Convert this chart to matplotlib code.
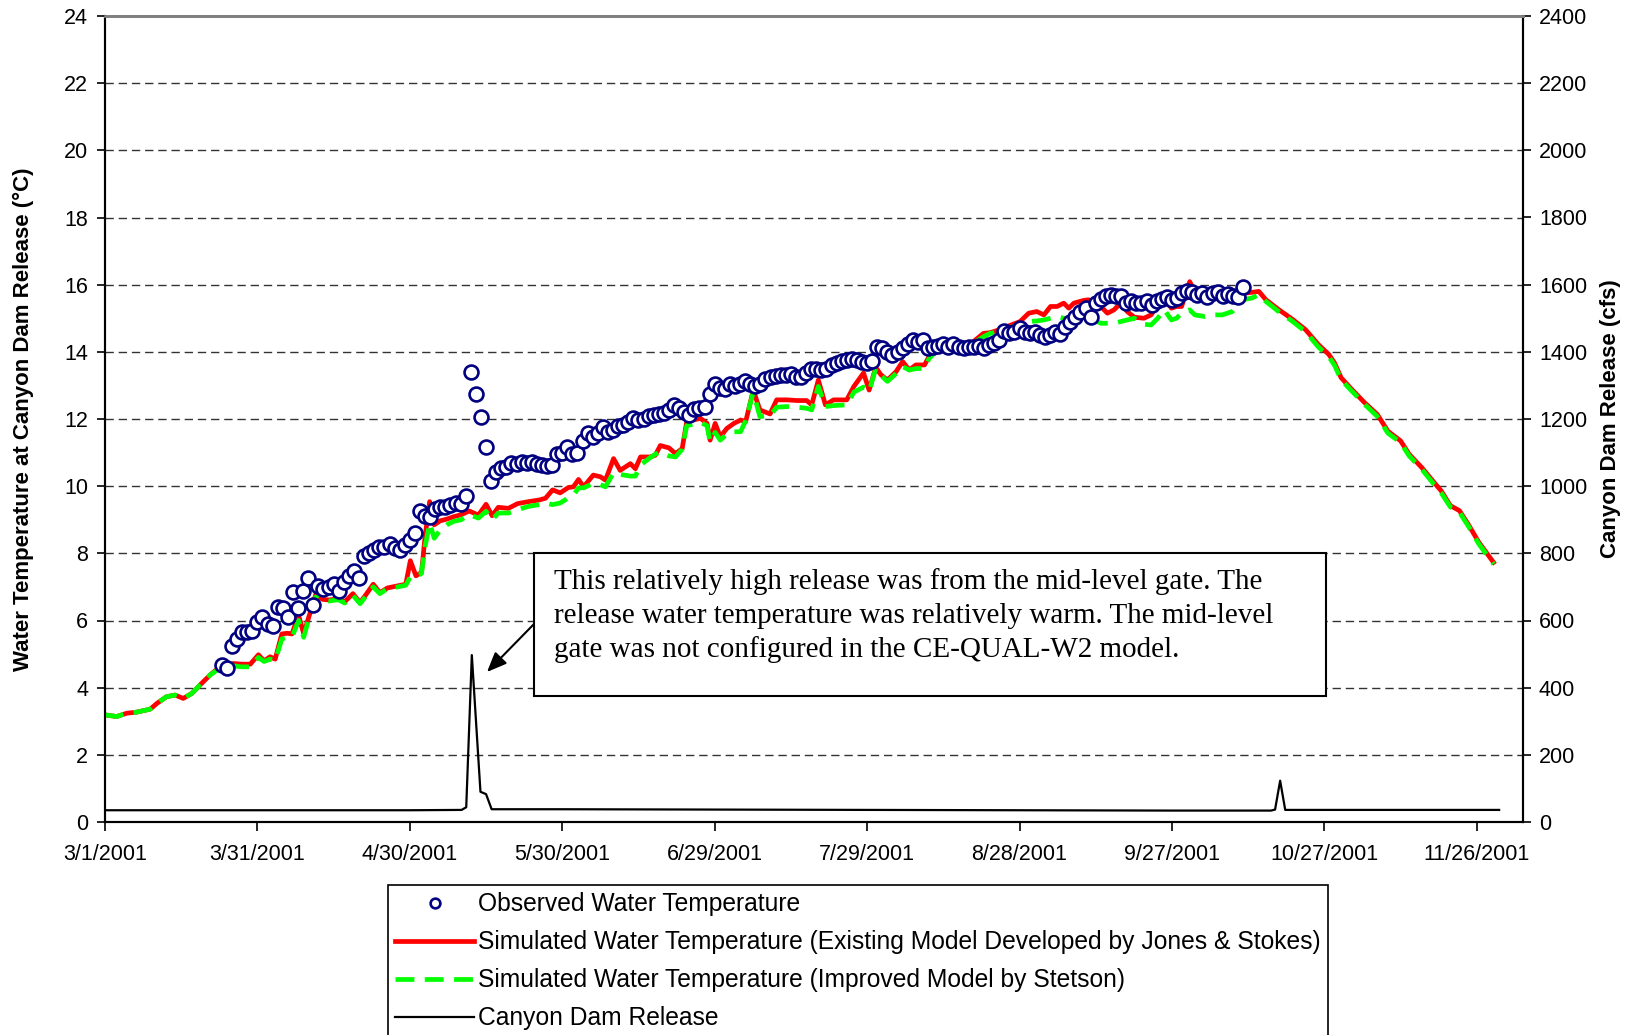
import numpy as np
import matplotlib
matplotlib.use("Agg")
import matplotlib.pyplot as plt
from matplotlib.patches import Rectangle

plt.rcParams['font.family'] = ['Liberation Sans', 'DejaVu Sans']

# ---------------- data (day offsets from 3/1/2001) ----------------
tick_days = [0, 30, 60, 90, 120, 150, 180, 210, 240, 270]
tick_labels = ["3/1/2001", "3/31/2001", "4/30/2001", "5/30/2001", "6/29/2001",
               "7/29/2001", "8/28/2001", "9/27/2001", "10/27/2001", "11/26/2001"]

obs_days = list(range(23, 225))
obs_temp = [4.68, 4.60, 5.24, 5.44, 5.67, 5.67, 5.70, 5.96, 6.11, 5.89,
            5.84, 6.39, 6.36, 6.10, 6.86, 6.36, 6.88, 7.27, 6.46, 7.04,
            6.93, 7.00, 7.10, 6.88, 7.16, 7.33, 7.48, 7.28, 7.92, 8.00,
            8.10, 8.18, 8.18, 8.28, 8.15, 8.10, 8.25, 8.41, 8.61, 9.27,
            9.11, 9.09, 9.31, 9.37, 9.37, 9.44, 9.49, 9.47, 9.71, 13.39,
            12.75, 12.05, 11.16, 10.14, 10.43, 10.53, 10.58, 10.68, 10.66, 10.73,
            10.70, 10.73, 10.66, 10.63, 10.60, 10.63, 10.97, 11.00, 11.17, 10.97,
            10.98, 11.35, 11.57, 11.47, 11.57, 11.77, 11.62, 11.67, 11.80, 11.83,
            11.90, 12.02, 11.97, 11.99, 12.10, 12.12, 12.15, 12.17, 12.27, 12.42,
            12.32, 12.22, 12.12, 12.29, 12.32, 12.35, 12.75, 13.04, 12.92, 12.88,
            13.03, 12.98, 13.03, 13.12, 13.03, 12.98, 13.03, 13.20, 13.26, 13.28,
            13.30, 13.30, 13.33, 13.26, 13.26, 13.38, 13.50, 13.48, 13.46, 13.50,
            13.62, 13.67, 13.72, 13.77, 13.79, 13.75, 13.69, 13.67, 13.74, 14.15,
            14.10, 14.00, 13.90, 14.00, 14.12, 14.24, 14.36, 14.29, 14.36, 14.12,
            14.14, 14.16, 14.22, 14.14, 14.22, 14.13, 14.10, 14.13, 14.13, 14.17,
            14.10, 14.20, 14.25, 14.35, 14.63, 14.55, 14.60, 14.70, 14.60, 14.55,
            14.60, 14.50, 14.45, 14.50, 14.60, 14.52, 14.75, 14.90, 15.05, 15.20,
            15.30, 15.05, 15.45, 15.57, 15.65, 15.70, 15.65, 15.65, 15.45, 15.50,
            15.45, 15.45, 15.50, 15.40, 15.50, 15.57, 15.63, 15.55, 15.60, 15.75,
            15.80, 15.77, 15.70, 15.75, 15.63, 15.75, 15.77, 15.67, 15.73, 15.65,
            15.63, 15.92]

sim_days = [0, 2.3, 4.3, 6.2, 8.9, 10.2, 12.1, 13.8, 15.4, 17.1,
            18.7, 20.7, 22.6, 23.9, 25.3, 26.9, 28.6, 30.2, 31.3, 32.5,
            33.5, 34.8, 35.9, 36.8, 38.1, 39.1, 40.4, 41.5, 42.8, 44.1,
            45.9, 47.2, 48.8, 50.2, 51.5, 52.8, 54.1, 55.6, 57.6, 59.2,
            60.1, 61.2, 62.3, 63.0, 63.9, 64.8, 66.0, 67.3, 68.6, 70.1,
            71.7, 73.5, 75.0, 76.2, 77.4, 79.4, 81.2, 83.4, 85.5, 86.7,
            88.1, 89.6, 91.2, 92.2, 93.2, 94.2, 96.1, 97.5, 98.5, 100.1,
            101.4, 103.4, 104.4, 105.4, 107.3, 108.3, 109.3, 111.0, 112.3, 113.6,
            114.5, 115.8, 117.2, 118.5, 119.1, 120.1, 121.1, 122.4, 123.8, 125.1,
            126.1, 127.6, 128.9, 130.9, 132.2, 134.2, 136.2, 138.1, 139.1, 140.4,
            141.8, 143.4, 146.0, 147.4, 149.3, 150.4, 151.7, 152.7, 154.0, 155.7,
            157.0, 158.3, 159.6, 161.3, 162.2, 163.2, 164.5, 166.1, 167.0, 169.6,
            170.9, 172.9, 174.2, 175.9, 177.5, 180.1, 181.8, 183.4, 184.8, 186.1,
            187.4, 188.7, 189.7, 190.7, 192.6, 193.6, 194.6, 196.0, 197.3, 198.6,
            199.9, 201.2, 202.6, 204.5, 205.9, 207.2, 208.5, 209.9, 210.9, 211.9,
            213.5, 214.5, 216.5, 217.9, 219.9, 221.9, 223.8, 225.7, 227.1, 228.5,
            231.0, 233.8, 236.3, 238.8, 240.9, 242.0, 243.3, 245.1, 247.9, 250.4,
            252.5, 255.0, 256.7, 259.2, 261.6, 263.0, 264.8, 266.6, 268.3, 270.4,
            273.3]

sim_existing = [3.19, 3.14, 3.24, 3.27, 3.36, 3.53, 3.73, 3.78, 3.68, 3.83,
                4.08, 4.38, 4.62, 4.50, 4.72, 4.70, 4.70, 4.98, 4.80, 4.92,
                4.85, 5.60, 5.62, 5.60, 6.16, 5.61, 6.24, 6.78, 6.63, 6.61,
                6.65, 6.56, 6.80, 6.53, 6.80, 7.08, 6.83, 6.97, 7.03, 7.08,
                7.78, 7.33, 7.43, 8.50, 9.54, 8.85, 8.97, 9.02, 9.09, 9.15,
                9.26, 9.14, 9.46, 9.12, 9.37, 9.34, 9.48, 9.54, 9.59, 9.64,
                9.89, 9.80, 9.96, 9.98, 10.20, 9.98, 10.33, 10.28, 10.18, 10.82,
                10.47, 10.67, 10.52, 10.87, 10.87, 10.92, 11.21, 11.14, 10.97, 11.12,
                11.92, 11.97, 12.02, 11.87, 11.37, 11.87, 11.47, 11.72, 11.87, 11.97,
                11.92, 12.86, 12.27, 12.15, 12.57, 12.57, 12.55, 12.55, 12.42, 13.16,
                12.42, 12.57, 12.57, 12.97, 13.37, 12.86, 13.54, 13.32, 13.16, 13.41,
                13.71, 13.46, 13.61, 13.61, 13.86, 13.96, 14.06, 14.08, 14.13, 14.06,
                14.30, 14.55, 14.57, 14.65, 14.75, 14.90, 15.15, 15.20, 15.10, 15.35,
                15.35, 15.45, 15.30, 15.45, 15.53, 15.55, 15.35, 15.35, 15.15, 15.25,
                15.45, 15.20, 15.03, 15.00, 15.10, 15.40, 15.60, 15.30, 15.35, 15.35,
                16.09, 15.79, 15.64, 15.64, 15.79, 15.79, 15.74, 15.77, 15.80, 15.55,
                15.26, 14.96, 14.66, 14.22, 13.92, 13.67, 13.23, 12.93, 12.49, 12.14,
                11.64, 11.35, 10.95, 10.55, 10.11, 9.86, 9.42, 9.27, 8.87, 8.33,
                7.73]

sim_improved = [3.19, 3.14, 3.24, 3.27, 3.36, 3.53, 3.73, 3.78, 3.68, 3.83,
                4.08, 4.38, 4.58, 4.45, 4.65, 4.62, 4.62, 4.90, 4.78, 4.85,
                4.80, 5.45, 5.50, 5.50, 6.00, 5.50, 6.20, 6.70, 6.60, 6.58,
                6.62, 6.52, 6.75, 6.50, 6.75, 7.00, 6.80, 6.95, 7.00, 7.05,
                7.30, 7.30, 7.40, 8.20, 8.90, 8.45, 8.70, 8.85, 8.95, 9.00,
                9.15, 9.05, 9.25, 9.00, 9.20, 9.20, 9.30, 9.40, 9.45, 9.50,
                9.45, 9.50, 9.65, 9.73, 9.95, 9.95, 10.08, 10.05, 9.98, 10.40,
                10.35, 10.30, 10.30, 10.63, 10.85, 10.95, 11.02, 10.90, 10.87, 11.10,
                11.80, 11.85, 11.90, 11.80, 11.32, 11.60, 11.37, 11.55, 11.62, 11.62,
                11.95, 12.80, 12.07, 12.10, 12.35, 12.37, 12.35, 12.32, 12.27, 12.97,
                12.37, 12.40, 12.42, 12.80, 12.95, 12.82, 13.50, 13.30, 13.12, 13.35,
                13.56, 13.46, 13.50, 13.51, 13.80, 13.96, 14.06, 14.08, 14.10, 14.05,
                14.25, 14.45, 14.55, 14.60, 14.70, 14.80, 14.90, 14.92, 14.95, 15.00,
                15.05, 15.00, 14.95, 14.95, 14.95, 14.95, 14.95, 14.85, 14.85, 14.85,
                14.90, 14.95, 15.00, 14.82, 14.80, 15.00, 15.25, 14.95, 15.00, 15.15,
                15.25, 15.10, 15.05, 15.10, 15.10, 15.20, 15.55, 15.60, 15.70, 15.50,
                15.20, 14.90, 14.60, 14.15, 13.85, 13.60, 13.17, 12.88, 12.44, 12.08,
                11.58, 11.30, 10.90, 10.50, 10.05, 9.80, 9.38, 9.22, 8.82, 8.28,
                7.68]

release_days = [0, 30, 60, 70.2, 71.1, 72.2, 73.9, 75.0, 76.1, 90, 120, 150,
                180, 210, 229.5, 230.3, 231.3, 232.3, 240, 274.4]
release_cfs = [35, 35, 35, 36, 44, 497, 90, 83, 38, 38, 37, 36,
               35, 34, 34, 37, 123, 36, 36, 36]

annotation_lines = [
    "This relatively high release was from the mid-level gate. The",
    "release water temperature was relatively warm. The mid-level",
    "gate was not configured in the CE-QUAL-W2 model.",
]
legend_labels = [
    "Observed Water Temperature",
    "Simulated Water Temperature (Existing Model Developed by Jones & Stokes)",
    "Simulated Water Temperature (Improved Model by Stetson)",
    "Canyon Dam Release",
]

# ---------------- figure ----------------
W, H = 1633, 1035
fig = plt.figure(figsize=(W / 100, H / 100), dpi=100)
L, R, T, B = 105, 1523, 16, 822
ax = fig.add_axes([L / W, 1 - B / H, (R - L) / W, (B - T) / H])
ax2 = ax.twinx()

ax.set_xlim(0, 279.1)
ax.set_ylim(0, 24)
ax2.set_ylim(0, 2400)

# grid
for yv in range(2, 24, 2):
    ax.axhline(yv, color='#333333', lw=1.0, ls=(0, (6, 3.5)), zorder=1)

ln_red, = ax.plot(sim_days, sim_existing, color='#ff0000', lw=3.4, zorder=2,
                  solid_joinstyle='round')
ln_grn, = ax.plot(sim_days, sim_improved, color='#00ff00', lw=3.4, zorder=3,
                  ls=(0, (4.0, 2.2)))
ln_obs, = ax.plot(obs_days, obs_temp, ls='none', marker='o', ms=10,
                  mfc='white', mec='#000080', mew=1.9, zorder=4)
ln_rel, = ax2.plot(release_days, release_cfs, color='black', lw=1.6, zorder=2)

ax.set_xticks(tick_days)
ax.set_xticklabels(tick_labels)
ax.set_yticks(range(0, 25, 2))
ax2.set_yticks(range(0, 2401, 200))

ax.tick_params(axis='x', direction='out', length=6.5, width=1.2, pad=9,
               labelsize=15.5)
ax.tick_params(axis='y', direction='out', length=6, width=1.2, pad=6,
               labelsize=15.5)
ax2.tick_params(axis='y', direction='out', length=5.5, width=1.2, pad=6,
                labelsize=15.5)

for a in (ax, ax2):
    a.spines['left'].set_linewidth(1.5)
    a.spines['right'].set_linewidth(1.5)
    a.spines['bottom'].set_linewidth(1.5)
    a.spines['top'].set_color('#808080')
    a.spines['top'].set_linewidth(2)

fig.text(23 / W, 1 - 419 / H, "Water Temperature at Canyon Dam Release (°C)",
         rotation=90, ha='center', va='center', fontsize=16, fontweight='bold')
fig.text(1611 / W, 1 - 419 / H, "Canyon Dam Release (cfs)",
         rotation=90, ha='center', va='center', fontsize=16, fontweight='bold')

# annotation box
bx0, bx1, by0, by1 = 534, 1326, 553, 696
fig.patches.append(Rectangle((bx0 / W, 1 - by1 / H), (bx1 - bx0) / W,
                             (by1 - by0) / H, transform=fig.transFigure,
                             facecolor='white', edgecolor='black', lw=1.5,
                             zorder=5))
for i, line in enumerate(annotation_lines):
    fig.text(554 / W, 1 - (582 + 34 * i) / H, line, ha='left', va='center',
             fontsize=21, family='Liberation Serif', zorder=6)
ax.annotate("", xy=(487 / W, 1 - 672 / H), xycoords='figure fraction',
            xytext=(534 / W, 1 - 624 / H), textcoords='figure fraction',
            arrowprops=dict(arrowstyle='-|>,head_length=1.2,head_width=0.5',
                            color='black', lw=1.5, shrinkA=0, shrinkB=0))

leg = fig.legend([ln_obs, ln_red, ln_grn, ln_rel], legend_labels,
                 loc='upper left', bbox_to_anchor=(388 / W, 1 - 885 / H),
                 frameon=True, fancybox=False, edgecolor='black',
                 framealpha=1, fontsize=17.7, handlelength=3.2,
                 handletextpad=0.15, borderpad=0.3, labelspacing=0.57,
                 borderaxespad=0, markerscale=0.7)
leg.get_frame().set_linewidth(1.2)

fig.savefig("out.png", dpi=100)
